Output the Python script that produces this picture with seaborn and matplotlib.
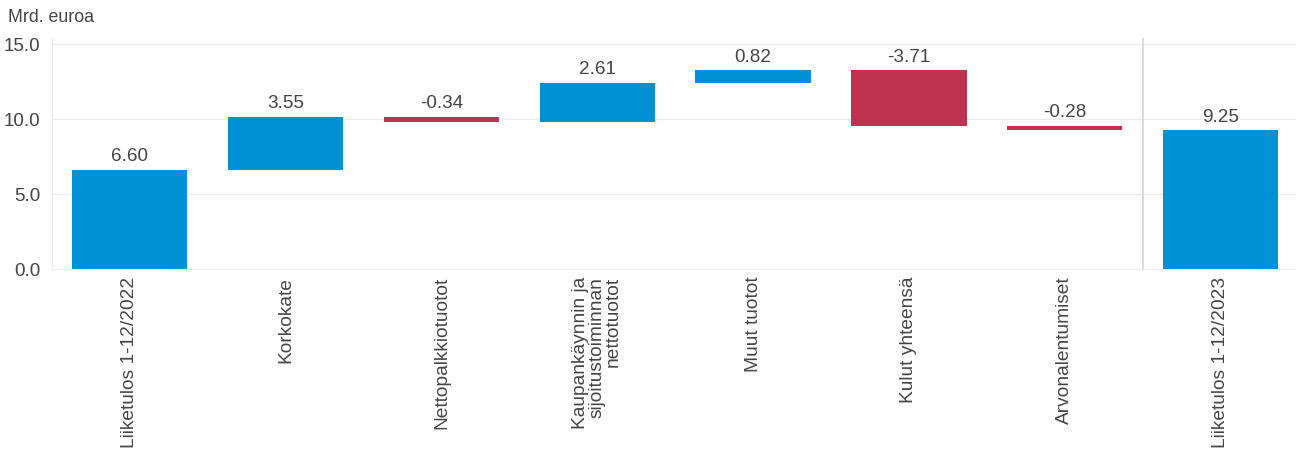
import numpy as np
import pandas as pd
import matplotlib
matplotlib.use("Agg")
import matplotlib.pyplot as plt
import seaborn as sns

# waterfall data (Mrd. euroa)
categories = [
    "Liiketulos 1-12/2022",
    "Korkokate",
    "Nettopalkkiotuotot",
    "Kaupankäynnin ja\nsijoitustoiminnan\nnettotuotot",
    "Muut tuotot",
    "Kulut yhteensä",
    "Arvonalentumiset",
    "Liiketulos 1-12/2023",
]
changes = [6.60, 3.55, -0.34, 2.61, 0.82, -3.71, -0.28, 9.25]
is_total = [True, False, False, False, False, False, False, True]

blue = "#0091d5"
red = "#c0304f"
text_col = "#444444"
grid_col = "#ececec"

# bases for the floating bars
bases = []
running = 0.0
for v, tot in zip(changes, is_total):
    if tot:
        bases.append(0.0)
        running = v
    else:
        bases.append(running if v >= 0 else running + v)
        running += v
heights = [abs(v) for v in changes]

df = pd.DataFrame({"category": categories, "height": heights, "base": bases, "change": changes})

sns.set_style("white")
plt.rcParams["font.family"] = ["Liberation Sans", "DejaVu Sans"]

fig = plt.figure(figsize=(12.96, 4.52), dpi=100)
ax = fig.add_axes([0.040, 0.403, 0.962, 0.511])

sns.barplot(data=df, x="category", y="height", bottom=df["base"].values,
            width=0.74, ax=ax, color=blue, linewidth=0, zorder=3)

for patch, v, tot in zip(ax.patches, changes, is_total):
    patch.set_facecolor(blue if (tot or v >= 0) else red)

# value labels
for i, (b, h, v) in enumerate(zip(bases, heights, changes)):
    ax.annotate(f"{v:.2f}", xy=(i, b + h), xytext=(0, 4), textcoords="offset points",
                ha="center", va="bottom", fontsize=13.6, color=text_col)

ax.set_xlim(-0.5, len(categories) - 0.5)
ax.set_ylim(0, 15.4)
ax.set_yticks([0, 5, 10, 15])
ax.set_yticklabels(["0.0", "5.0", "10.0", "15.0"])

# grid
for yv in [5, 10, 15]:
    ax.axhline(yv, color=grid_col, lw=1, zorder=0)
ax.axvline(len(categories) - 1.5, color="#d4d4d4", lw=1.2, zorder=1)

for s in ["top", "right"]:
    ax.spines[s].set_visible(False)
ax.spines["left"].set_color(grid_col)
ax.spines["bottom"].set_color(grid_col)
ax.spines["left"].set_zorder(0)

ax.set_xlabel("")
ax.set_ylabel("")
ax.tick_params(axis="y", length=0, pad=8, labelsize=13.6, labelcolor=text_col)
ax.tick_params(axis="x", length=0, pad=5)
ax.set_xticks(range(len(categories)))
ax.set_xticklabels(categories, rotation=90, ha="center", va="top",
                   multialignment="right", fontsize=13.8, color=text_col,
                   linespacing=0.95)
ax.set_xticks(np.arange(0.5, len(categories) - 1, 1.0), minor=True)
ax.tick_params(axis="x", which="minor", length=4, color="#e2e2e2", width=1)

fig.text(0.006, 0.962, "Mrd. euroa", fontsize=12.8, color=text_col, ha="left", va="center")

fig.savefig("out.png", dpi=100, facecolor="white")
